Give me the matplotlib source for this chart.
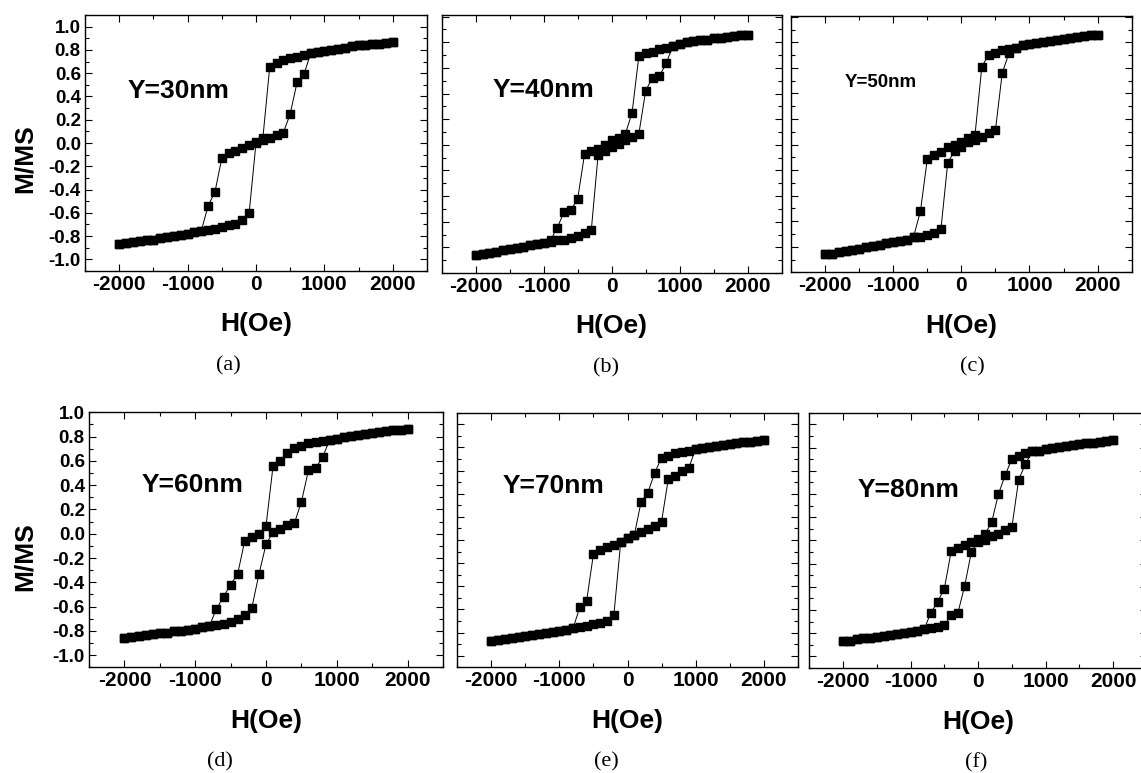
import matplotlib
matplotlib.use('Agg')
import matplotlib.pyplot as plt
from matplotlib.ticker import MultipleLocator

plt.rcParams['font.family'] = 'Liberation Sans'
plt.rcParams['axes.unicode_minus'] = False

# applied field (Oe), same grid for every panel
field = [-2000, -1900, -1800, -1700, -1600, -1500, -1400, -1300, -1200, -1100,
         -1000, -900, -800, -700, -600, -500, -400, -300, -200, -100,
         0, 100, 200, 300, 400, 500, 600, 700, 800, 900,
         1000, 1100, 1200, 1300, 1400, 1500, 1600, 1700, 1800, 1900, 2000]

# M/MS for the increasing-field sweep (lower branch) and the decreasing-field
# sweep (upper branch), both listed in the order of `field`
up_a = [-0.865, -0.86, -0.855, -0.845, -0.835, -0.83, -0.82, -0.81, -0.80, -0.79,
        -0.78, -0.765, -0.755, -0.745, -0.735, -0.72, -0.705, -0.695, -0.66, -0.60,
        0.00, 0.03, 0.045, 0.065, 0.09, 0.25, 0.52, 0.59, 0.77, 0.78,
        0.79, 0.80, 0.81, 0.82, 0.83, 0.84, 0.845, 0.85, 0.855, 0.86, 0.87]
down_a = [-0.865, -0.86, -0.855, -0.845, -0.835, -0.83, -0.82, -0.81, -0.80, -0.79,
          -0.78, -0.765, -0.755, -0.54, -0.42, -0.13, -0.09, -0.065, -0.04, -0.02,
          0.01, 0.04, 0.65, 0.69, 0.71, 0.73, 0.74, 0.755, 0.77, 0.78,
          0.79, 0.80, 0.81, 0.82, 0.83, 0.84, 0.845, 0.85, 0.855, 0.86, 0.87]

up_b = [-0.857, -0.852, -0.842, -0.834, -0.822, -0.816, -0.803, -0.795, -0.785, -0.774,
        -0.769, -0.755, -0.745, -0.74, -0.727, -0.714, -0.69, -0.665, -0.078, -0.052,
        -0.018, 0.008, 0.034, 0.065, 0.088, 0.423, 0.525, 0.535, 0.636, 0.77,
        0.79, 0.80, 0.81, 0.815, 0.82, 0.83, 0.835, 0.84, 0.85, 0.855, 0.857]
down_b = [-0.857, -0.852, -0.842, -0.834, -0.822, -0.816, -0.803, -0.795, -0.785, -0.774,
          -0.769, -0.745, -0.645, -0.525, -0.51, -0.42, -0.075, -0.05, -0.03, 0.0,
          0.034, 0.055, 0.083, 0.252, 0.696, 0.714, 0.725, 0.745, 0.753, 0.77,
          0.79, 0.80, 0.81, 0.815, 0.82, 0.83, 0.835, 0.84, 0.85, 0.855, 0.857]

up_c = [-0.858, -0.853, -0.842, -0.832, -0.822, -0.814, -0.80, -0.795, -0.785, -0.774,
        -0.764, -0.758, -0.75, -0.727, -0.722, -0.709, -0.696, -0.665, -0.143, -0.05,
        -0.018, 0.016, 0.034, 0.06, 0.09, 0.112, 0.56, 0.717, 0.757, 0.78,
        0.788, 0.795, 0.803, 0.81, 0.818, 0.826, 0.836, 0.843, 0.853, 0.857, 0.86]
down_c = [-0.858, -0.853, -0.842, -0.832, -0.822, -0.814, -0.80, -0.795, -0.785, -0.774,
          -0.764, -0.758, -0.75, -0.72, -0.52, -0.115, -0.083, -0.057, -0.023, 0.0,
          0.023, 0.05, 0.073, 0.607, 0.704, 0.72, 0.738, 0.748, 0.757, 0.78,
          0.788, 0.795, 0.803, 0.81, 0.818, 0.826, 0.836, 0.843, 0.853, 0.857, 0.86]

up_d = [-0.858, -0.85, -0.84, -0.836, -0.825, -0.82, -0.814, -0.803, -0.797, -0.79,
        -0.781, -0.767, -0.759, -0.75, -0.74, -0.723, -0.70, -0.668, -0.61, -0.334,
        -0.088, 0.014, 0.041, 0.068, 0.085, 0.263, 0.523, 0.54, 0.63, 0.775,
        0.784, 0.80, 0.808, 0.816, 0.825, 0.83, 0.838, 0.847, 0.852, 0.858, 0.863]
down_d = [-0.858, -0.85, -0.84, -0.836, -0.825, -0.82, -0.814, -0.803, -0.797, -0.79,
          -0.781, -0.767, -0.759, -0.62, -0.518, -0.42, -0.33, -0.058, -0.027, 0.0,
          0.063, 0.559, 0.60, 0.663, 0.707, 0.723, 0.745, 0.756, 0.767, 0.775,
          0.784, 0.80, 0.808, 0.816, 0.825, 0.83, 0.838, 0.847, 0.852, 0.858, 0.863]

up_e = [-0.87, -0.865, -0.853, -0.845, -0.839, -0.83, -0.824, -0.816, -0.807, -0.798,
        -0.787, -0.778, -0.764, -0.755, -0.744, -0.726, -0.715, -0.697, -0.648, -0.02,
        0.014, 0.043, 0.072, 0.092, 0.124, 0.158, 0.53, 0.553, 0.60, 0.622,
        0.787, 0.795, 0.807, 0.816, 0.82, 0.83, 0.836, 0.843, 0.85, 0.856, 0.862]
down_e = [-0.87, -0.865, -0.853, -0.845, -0.839, -0.83, -0.824, -0.816, -0.807, -0.798,
          -0.787, -0.778, -0.764, -0.58, -0.525, -0.12, -0.09, -0.063, -0.04, -0.02,
          0.017, 0.043, 0.331, 0.41, 0.582, 0.709, 0.726, 0.75, 0.76, 0.772,
          0.787, 0.795, 0.807, 0.816, 0.82, 0.83, 0.836, 0.843, 0.85, 0.856, 0.862]

up_f = [-0.87, -0.865, -0.853, -0.845, -0.839, -0.83, -0.824, -0.816, -0.807, -0.798,
        -0.787, -0.778, -0.765, -0.758, -0.75, -0.729, -0.646, -0.625, -0.395, -0.098,
        -0.014, 0.006, 0.037, 0.058, 0.089, 0.115, 0.524, 0.657, 0.767, 0.772,
        0.787, 0.795, 0.804, 0.813, 0.82, 0.83, 0.836, 0.842, 0.85, 0.856, 0.862]
down_f = [-0.87, -0.865, -0.853, -0.845, -0.839, -0.83, -0.824, -0.816, -0.807, -0.798,
          -0.787, -0.778, -0.765, -0.625, -0.53, -0.415, -0.095, -0.063, -0.037, -0.014,
          0.009, 0.052, 0.156, 0.398, 0.562, 0.703, 0.73, 0.75, 0.767, 0.772,
          0.787, 0.795, 0.804, 0.813, 0.82, 0.83, 0.836, 0.842, 0.85, 0.856, 0.862]

labels = ['Y=30nm', 'Y=40nm', 'Y=50nm', 'Y=60nm', 'Y=70nm', 'Y=80nm']
letters = ['(a)', '(b)', '(c)', '(d)', '(e)', '(f)']
ups = [up_a, up_b, up_c, up_d, up_e, up_f]
downs = [down_a, down_b, down_c, down_d, down_e, down_f]

W, H = 1141, 773
fig = plt.figure(figsize=(W / 100, H / 100), dpi=100)

def px(x, y):
    return x / W, 1 - y / H

# axes boxes in pixels: left, top, right, bottom
boxes = [(85, 15, 427, 271), (441.7, 15, 781.7, 273), (791, 15.7, 1131.7, 272.3),
         (89, 412.3, 443, 667.3), (457.3, 412.7, 797.7, 667.3), (809.3, 412.7, 1147, 668)]
ylims = [(-1.1, 1.1), (-1.0, 1.013), (-1.0, 1.008), (-1.1, 1.0), (-1.1, 1.1), (-1.1, 1.1)]
# Y=..nm text: left x, baseline y, size
tag_pos = [(128, 98, 19), (493, 97, 19), (845, 87, 13.5), (142, 492, 19), (503, 493, 19), (858, 497, 19)]
letter_x = [228, 606, 972, 220, 606, 976]

for i in range(6):
    l, t, r, b = boxes[i]
    ax = fig.add_axes([l / W, 1 - b / H, (r - l) / W, (b - t) / H])
    xs = field[::-1] + field
    ys = downs[i][::-1] + ups[i]
    ax.plot(xs, ys, color='black', lw=0.7, marker='s', ms=6, mfc='black', mec='black')
    ax.set_xlim(-2500, 2500)
    ax.set_ylim(*ylims[i])
    ax.xaxis.set_major_locator(MultipleLocator(1000))
    ax.xaxis.set_minor_locator(MultipleLocator(500))
    ax.yaxis.set_major_locator(MultipleLocator(0.2))
    ax.yaxis.set_minor_locator(MultipleLocator(0.1))
    ax.yaxis.set_major_formatter(plt.FormatStrFormatter('%.1f'))
    ax.tick_params(which='both', direction='in', top=True, right=True, width=0.8)
    ax.tick_params(which='major', length=5)
    ax.tick_params(which='minor', length=3)
    ax.tick_params(axis='x', labelsize=15, pad=3)
    ax.tick_params(axis='y', labelsize=13.5, pad=3)
    for lab in ax.get_xticklabels() + ax.get_yticklabels():
        lab.set_fontweight('bold')
    if i not in (0, 3):
        ax.tick_params(axis='y', labelleft=False)
    for sp in ax.spines.values():
        sp.set_linewidth(1.0)

    tx, ty, ts = tag_pos[i]
    fig.text(*px(tx, ty), labels[i], fontsize=ts, fontweight='bold', ha='left', va='baseline')

    cx = (l + r) / 2 if i != 5 else (l + 1141 + 6) / 2 - 3
    fig.text(*px((l + r) / 2, b + 60.5), 'H(Oe)', fontsize=19, fontweight='bold',
             ha='center', va='baseline')
    fig.text(*px(letter_x[i], b + 95), letters[i], fontsize=16, family='Liberation Serif',
             ha='center', va='center')
    if i in (0, 3):
        fig.text(*px(24.5, t + 144), 'M/MS', fontsize=19, fontweight='bold', rotation=90,
                 ha='center', va='center')

fig.savefig('out.png', dpi=100)
